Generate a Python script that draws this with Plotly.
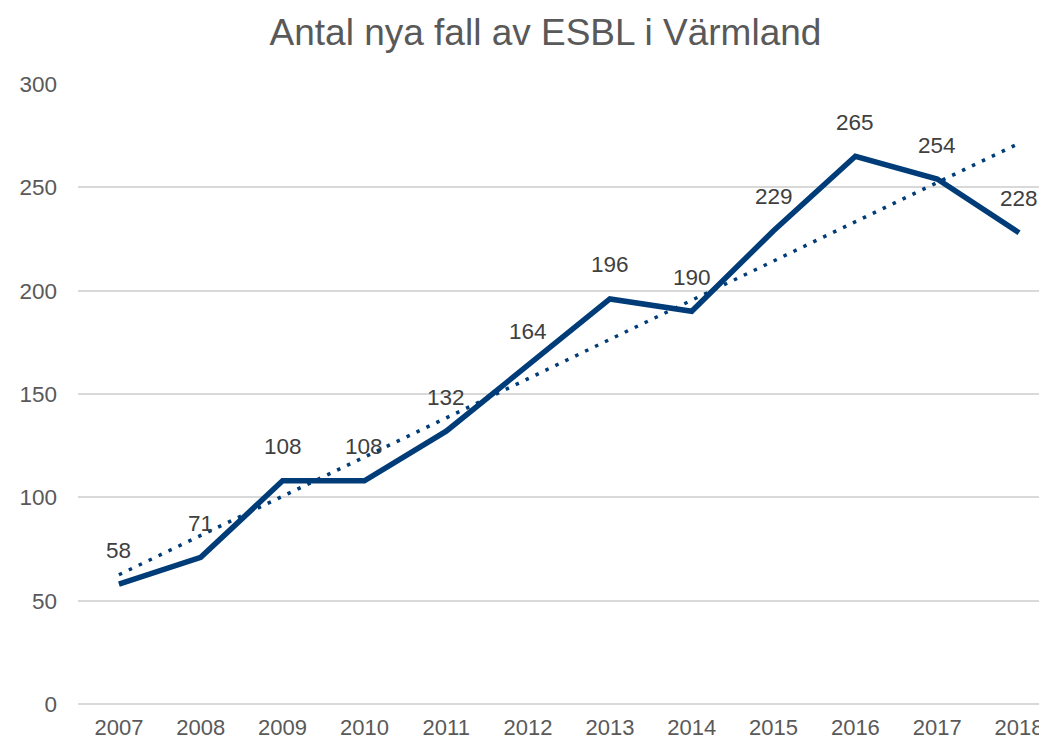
import numpy as np
import plotly.graph_objects as go

years = ["2007", "2008", "2009", "2010", "2011", "2012", "2013", "2014", "2015", "2016", "2017", "2018"]
cases = [58, 71, 108, 108, 132, 164, 196, 190, 229, 265, 254, 228]
y_ticks = [0, 50, 100, 150, 200, 250, 300]

title_text = "Antal nya fall av ESBL i Värmland"

xi = np.arange(len(years))
slope, intercept = np.polyfit(xi, cases, 1)
trend = slope * xi + intercept

navy = "#003C78"
grey = "#595959"
font_family = "Liberation Sans, Arial, sans-serif"

fig = go.Figure()
fig.add_trace(go.Scatter(
    x=xi, y=trend, mode="lines",
    line=dict(color=navy, width=3.5, dash="3.5px,7.5px"),
    hoverinfo="skip", showlegend=False,
))
fig.add_trace(go.Scatter(
    x=xi, y=cases, mode="lines",
    line=dict(color=navy, width=5.5),
    showlegend=False,
))

for x, v in zip(xi, cases):
    fig.add_annotation(
        x=x, y=v, text=str(v), showarrow=False,
        yshift=34, font=dict(size=22.5, color="#404040", family=font_family),
    )

fig.update_layout(
    width=1039, height=741,
    margin=dict(l=78, r=0, t=84, b=37),
    paper_bgcolor="white", plot_bgcolor="white",
    title=dict(
        text=title_text, x=0.525, xanchor="center", y=0.957, yanchor="middle",
        font=dict(size=37, color=grey, family=font_family),
    ),
    font=dict(family=font_family, color=grey),
)
fig.update_xaxes(
    range=[-0.5, 11.244], tickvals=list(xi), ticktext=years,
    showgrid=False, zeroline=False, showline=False, automargin=False,
    tickfont=dict(size=22, color=grey), ticks="", ticklabelstandoff=8,
    ticklabeloverflow="allow",
)
fig.update_yaxes(
    range=[0, 300], tickvals=y_ticks, automargin=False,
    showgrid=True, gridcolor="#D9D9D9", gridwidth=2,
    zeroline=True, zerolinecolor="#D9D9D9", zerolinewidth=2,
    showline=False, ticks="",
    tickfont=dict(size=22.5, color=grey), ticklabelstandoff=20,
)

fig.write_html(
    "out.html",
    config={"displayModeBar": False},
    post_script=(
        "document.documentElement.style.overflow='hidden';"
        "document.body.style.margin='0';document.body.style.overflow='hidden';"
    ),
)
